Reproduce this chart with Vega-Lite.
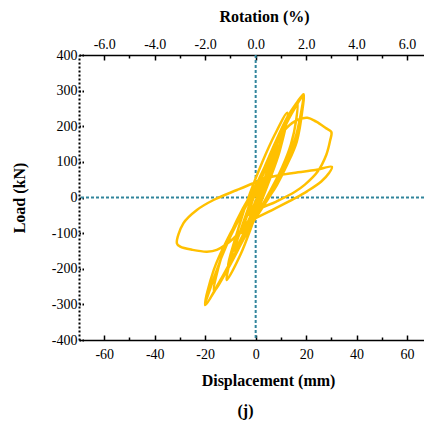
{
  "$schema": "https://vega.github.io/schema/vega-lite/v6.json",
  "width": 345,
  "height": 285,
  "autosize": "none",
  "padding": {"left": 79, "top": 55, "right": 0, "bottom": 83},
  "background": "white",
  "config": {
    "view": {"stroke": null},
    "font": "Liberation Serif",
    "axis": {"labelFont": "Liberation Serif", "titleFont": "Liberation Serif", "labelColor": "black", "titleColor": "black", "grid": false, "domainColor": "black", "tickColor": "black", "labelFontSize": 14, "titleFontSize": 16, "titleFontWeight": "bold"}
  },
  "title": {"text": "(j)", "orient": "bottom", "fontSize": 16, "font": "Liberation Serif", "fontWeight": "bold", "color": "black", "offset": 15, "anchor": "middle", "dx": -6},
  "datasets": {
    "curve": [
      {"i": 1, "disp": 0, "load": 0},
      {"i": 2, "disp": 0.6, "load": 14},
      {"i": 3, "disp": 1.2, "load": 27},
      {"i": 4, "disp": 1.8, "load": 38},
      {"i": 5, "disp": 2.4, "load": 47},
      {"i": 6, "disp": 3, "load": 55},
      {"i": 7, "disp": 1.8, "load": 26},
      {"i": 8, "disp": 0.6, "load": 2},
      {"i": 9, "disp": -0.6, "load": -20},
      {"i": 10, "disp": -1.8, "load": -37},
      {"i": 11, "disp": -3, "load": -50},
      {"i": 12, "disp": -1.2, "load": -8},
      {"i": 13, "disp": 0.6, "load": 28},
      {"i": 14, "disp": 2.4, "load": 60},
      {"i": 15, "disp": 4.2, "load": 88},
      {"i": 16, "disp": 6, "load": 110},
      {"i": 17, "disp": 3.7, "load": 56},
      {"i": 18, "disp": 1.4, "load": 9},
      {"i": 19, "disp": -0.9, "load": -33},
      {"i": 20, "disp": -3.2, "load": -70},
      {"i": 21, "disp": -5.5, "load": -100},
      {"i": 22, "disp": -2.7, "load": -36},
      {"i": 23, "disp": 0.1, "load": 21},
      {"i": 24, "disp": 2.9, "load": 71},
      {"i": 25, "disp": 5.7, "load": 114},
      {"i": 26, "disp": 8.5, "load": 150},
      {"i": 27, "disp": 5.1, "load": 74},
      {"i": 28, "disp": 1.7, "load": 6},
      {"i": 29, "disp": -1.7, "load": -54},
      {"i": 30, "disp": -5.1, "load": -106},
      {"i": 31, "disp": -8.5, "load": -150},
      {"i": 32, "disp": -4.7, "load": -66},
      {"i": 33, "disp": -0.9, "load": 9},
      {"i": 34, "disp": 2.9, "load": 75},
      {"i": 35, "disp": 6.7, "load": 132},
      {"i": 36, "disp": 10.5, "load": 180},
      {"i": 37, "disp": 6.5, "load": 85},
      {"i": 38, "disp": 2.2, "load": -1},
      {"i": 39, "disp": -2.4, "load": -76},
      {"i": 40, "disp": -6.7, "load": -140},
      {"i": 41, "disp": -11, "load": -195},
      {"i": 42, "disp": -6.8, "load": -85},
      {"i": 43, "disp": -2.2, "load": 13},
      {"i": 44, "disp": 2.6, "load": 99},
      {"i": 45, "disp": 7.4, "load": 174},
      {"i": 46, "disp": 12.5, "load": 238},
      {"i": 47, "disp": 9.5, "load": 130},
      {"i": 48, "disp": 5, "load": 40},
      {"i": 49, "disp": -0.5, "load": -60},
      {"i": 50, "disp": -6, "load": -160},
      {"i": 51, "disp": -11.5, "load": -232},
      {"i": 52, "disp": -9, "load": -150},
      {"i": 53, "disp": -4.5, "load": -70},
      {"i": 54, "disp": -0.5, "load": 5},
      {"i": 55, "disp": 4.5, "load": 90},
      {"i": 56, "disp": 9.5, "load": 170},
      {"i": 57, "disp": 13.8, "load": 235},
      {"i": 58, "disp": 16.5, "load": 268},
      {"i": 59, "disp": 16, "load": 215},
      {"i": 60, "disp": 14, "load": 150},
      {"i": 61, "disp": 10.5, "load": 85},
      {"i": 62, "disp": 5.5, "load": 15},
      {"i": 63, "disp": 0, "load": -55},
      {"i": 64, "disp": -5, "load": -120},
      {"i": 65, "disp": -11, "load": -200},
      {"i": 66, "disp": -16.5, "load": -262},
      {"i": 67, "disp": -13.5, "load": -165},
      {"i": 68, "disp": -9.5, "load": -95},
      {"i": 69, "disp": -5, "load": -30},
      {"i": 70, "disp": -1, "load": 20},
      {"i": 71, "disp": 3.5, "load": 85},
      {"i": 72, "disp": 7.5, "load": 150},
      {"i": 73, "disp": 12.5, "load": 225},
      {"i": 74, "disp": 16.5, "load": 268},
      {"i": 75, "disp": 19, "load": 290},
      {"i": 76, "disp": 18.6, "load": 250},
      {"i": 77, "disp": 16.3, "load": 157},
      {"i": 78, "disp": 12.4, "load": 91},
      {"i": 79, "disp": 8.4, "load": 35},
      {"i": 80, "disp": 5, "load": -3},
      {"i": 81, "disp": 0, "load": -58},
      {"i": 82, "disp": -2.2, "load": -82},
      {"i": 83, "disp": -7.4, "load": -147},
      {"i": 84, "disp": -14, "load": -232},
      {"i": 85, "disp": -20, "load": -302},
      {"i": 86, "disp": -16.6, "load": -203},
      {"i": 87, "disp": -10.7, "load": -110},
      {"i": 88, "disp": -5.5, "load": -44},
      {"i": 89, "disp": -0.9, "load": 12},
      {"i": 90, "disp": 4.8, "load": 95},
      {"i": 91, "disp": 9, "load": 160},
      {"i": 92, "disp": 14, "load": 232},
      {"i": 93, "disp": 18.5, "load": 280},
      {"i": 94, "disp": 17.5, "load": 220},
      {"i": 95, "disp": 15, "load": 150},
      {"i": 96, "disp": 11, "load": 80},
      {"i": 97, "disp": 6, "load": 15},
      {"i": 98, "disp": 0, "load": -50},
      {"i": 99, "disp": -6, "load": -130},
      {"i": 100, "disp": -12, "load": -210},
      {"i": 101, "disp": -19.5, "load": -296},
      {"i": 102, "disp": -16, "load": -215},
      {"i": 103, "disp": -11, "load": -125},
      {"i": 104, "disp": -5, "load": -40},
      {"i": 105, "disp": 0, "load": 25},
      {"i": 106, "disp": 5, "load": 100},
      {"i": 107, "disp": 11, "load": 185},
      {"i": 108, "disp": 16, "load": 216},
      {"i": 109, "disp": 20.5, "load": 224},
      {"i": 110, "disp": 24, "load": 213},
      {"i": 111, "disp": 28, "load": 194},
      {"i": 112, "disp": 30, "load": 184},
      {"i": 113, "disp": 29.5, "load": 160},
      {"i": 114, "disp": 28, "load": 120},
      {"i": 115, "disp": 24.5, "load": 72},
      {"i": 116, "disp": 19.5, "load": 36},
      {"i": 117, "disp": 15.6, "load": 16},
      {"i": 118, "disp": 8, "load": -12},
      {"i": 119, "disp": 0, "load": -38},
      {"i": 120, "disp": -3.5, "load": -72},
      {"i": 121, "disp": -8.8, "load": -115},
      {"i": 122, "disp": -15.4, "load": -147},
      {"i": 123, "disp": -19.3, "load": -152},
      {"i": 124, "disp": -25, "load": -147},
      {"i": 125, "disp": -29.9, "load": -138},
      {"i": 126, "disp": -31.2, "load": -129},
      {"i": 127, "disp": -28.6, "load": -72},
      {"i": 128, "disp": -23.3, "load": -35},
      {"i": 129, "disp": -16.7, "load": -7},
      {"i": 130, "disp": -7.4, "load": 21},
      {"i": 131, "disp": -0.9, "load": 40},
      {"i": 132, "disp": 5, "load": 56},
      {"i": 133, "disp": 14.9, "load": 69},
      {"i": 134, "disp": 23.6, "load": 77},
      {"i": 135, "disp": 30.2, "load": 86},
      {"i": 136, "disp": 29, "load": 68},
      {"i": 137, "disp": 26, "load": 45},
      {"i": 138, "disp": 20.5, "load": 18},
      {"i": 139, "disp": 15.6, "load": -2},
      {"i": 140, "disp": 8, "load": -30},
      {"i": 141, "disp": 0, "load": -58}
    ],
    "xzero": [{"disp": 0}],
    "yzero": [{"load": 0}]
  },
  "layer": [
    {
      "data": {"name": "xzero"},
      "mark": {"type": "rule", "color": "#31859C", "strokeDash": [3, 2], "strokeWidth": 2},
      "encoding": {
        "x": {"field": "disp", "type": "quantitative", "scale": {"domain": [-70, 66.7], "nice": false, "zero": false},
          "axis": {"orient": "top", "values": [-60, -40, -20, 0, 20, 40, 60], "tickSize": -5, "tickWidth": 1.5, "domainWidth": 1.5, "labelPadding": 9,
            "labelExpr": "(datum.value < 0 ? '-' : '') + format(abs(datum.value) / 10, '.1f')",
            "title": "Rotation (%)", "titlePadding": 13, "titleX": 185}}
      }
    },
    {
      "data": {"name": "yzero"},
      "mark": {"type": "rule", "color": "#31859C", "strokeDash": [3, 2], "strokeWidth": 2},
      "encoding": {
        "y": {"field": "load", "type": "quantitative", "scale": {"domain": [-400, 400], "nice": false},
          "axis": {"orient": "left", "values": [-400, -300, -200, -100, 0, 100, 200, 300, 400], "tickSize": -5, "tickWidth": 2, "tickDash": [1.5, 1.5], "domainWidth": 2, "domainDash": [2, 2], "labelPadding": 7,
            "labelExpr": "datum.value < 0 ? '-' + (-datum.value) : '' + datum.value",
            "title": "Load (kN)", "titlePadding": 24}}
      }
    },
    {
      "data": {"name": "xzero"},
      "mark": {"type": "point", "opacity": 0},
      "encoding": {
        "x": {"field": "disp", "type": "quantitative", "scale": {"domain": [-70, 66.7], "nice": false, "zero": false},
          "axis": {"orient": "bottom", "values": [-50, -30, -10, 10, 30, 50], "tickSize": -3, "tickWidth": 1.5, "domain": false, "labels": false, "title": null}}
      }
    },
    {
      "data": {"name": "xzero"},
      "mark": {"type": "point", "opacity": 0},
      "encoding": {
        "x": {"field": "disp", "type": "quantitative", "scale": {"domain": [-70, 66.7], "nice": false, "zero": false},
          "axis": {"orient": "top", "values": [-50, -30, -10, 10, 30, 50], "tickSize": -3, "tickWidth": 1.5, "domain": false, "labels": false, "title": null}}
      }
    },
    {
      "data": {"name": "curve"},
      "mark": {"type": "line", "color": "#FFC000", "strokeWidth": 2.5, "interpolate": "catmull-rom"},
      "encoding": {
        "x": {"field": "disp", "type": "quantitative", "scale": {"domain": [-70, 66.7], "nice": false, "zero": false},
          "axis": {"orient": "bottom", "values": [-60, -40, -20, 0, 20, 40, 60], "tickSize": -5, "tickWidth": 1.5, "domainWidth": 1.5, "labelPadding": 12,
            "labelExpr": "datum.value < 0 ? '-' + (-datum.value) : '' + datum.value",
            "title": "Displacement (mm)", "titlePadding": 11, "titleX": 189}},
        "y": {"field": "load", "type": "quantitative", "scale": {"domain": [-400, 400], "nice": false}, "axis": null},
        "order": {"field": "i", "type": "quantitative"}
      }
    }
  ],
  "resolve": {"axis": {"x": "independent", "y": "independent"}}
}
